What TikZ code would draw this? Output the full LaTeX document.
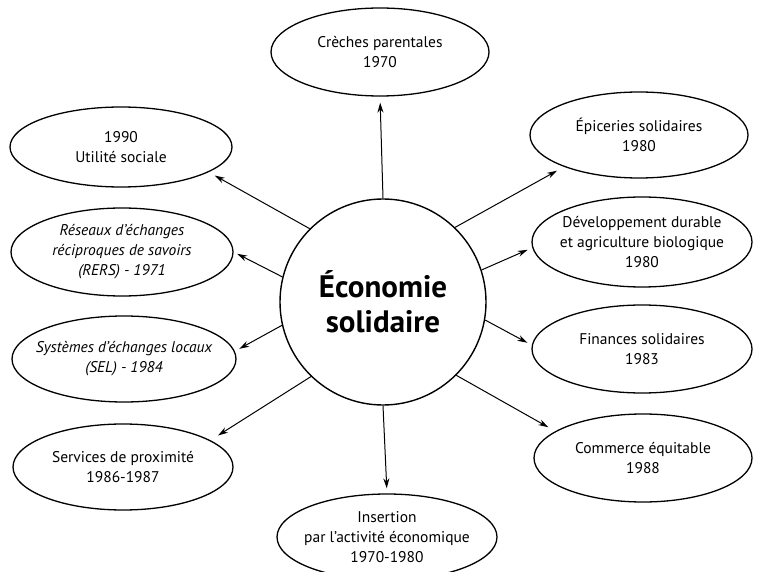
\documentclass[tikz,border=0pt]{standalone}
\usepackage{fontspec}
\setmainfont{PT Sans}
\usetikzlibrary{shapes.geometric,arrows.meta}
\begin{document}
\begin{tikzpicture}[x=1pt,y=-1pt,
  bub/.style={ellipse,draw,line width=1.3pt,inner sep=0pt},
  lbl/.style={align=center,inner sep=0pt,font=\fontsize{15.5}{20}\selectfont},
  itlbl/.style={lbl,font=\fontsize{15.5}{20}\selectfont\itshape},
  arr/.style={-{Stealth[length=10pt,width=6pt]},line width=1pt}]
\useasboundingbox (0,0) rectangle (758,572);
\node[circle,draw,line width=1.4pt,minimum size=206pt,inner sep=0pt,align=center,
  font=\fontsize{31}{35}\selectfont\bfseries] (c) at (383,302) {Économie\\solidaire};
\node[bub,minimum width=218pt,minimum height=88pt,label={[lbl]center:{Crèches parentales\\1970}}] (cre) at (380,52) {};
\node[bub,minimum width=220pt,minimum height=86pt,label={[lbl]center:{Insertion\\par l’activité économique\\1970-1980}}] (ins) at (387,537) {};
\node[bub,minimum width=222pt,minimum height=80pt,label={[lbl]center:{1990\\Utilité sociale}}] (utl) at (121,147) {};
\node[bub,minimum width=222pt,minimum height=88pt,label={[itlbl]center:{Réseaux d’échanges\\réciproques de savoirs\\(RERS) - 1971}}] (rers) at (122,252) {};
\node[bub,minimum width=224pt,minimum height=86pt,label={[itlbl]center:{Systèmes d’échanges locaux\\(SEL) - 1984}}] (sel) at (124,359) {};
\node[bub,minimum width=220pt,minimum height=86pt,label={[lbl]center:{Services de proximité\\1986-1987}}] (srv) at (123,467) {};
\node[bub,minimum width=218pt,minimum height=86pt,label={[lbl]center:{Épiceries solidaires\\1980}}] (epi) at (639,135) {};
\node[bub,minimum width=220pt,minimum height=90pt,label={[lbl]center:{Développement durable\\et agriculture biologique\\1980}}] (dev) at (642,242) {};
\node[bub,minimum width=220pt,minimum height=88pt,label={[lbl]center:{Finances solidaires\\1983}}] (fin) at (642,349) {};
\node[bub,minimum width=218pt,minimum height=88pt,label={[lbl]center:{Commerce équitable\\1988}}] (com) at (643,458) {};
\draw[arr,shorten >=6pt] (c.90) -- (cre.south);
\draw[arr,shorten >=5pt] (c.270) -- (ins.north);
\draw[arr,shorten >=7pt] (c.135) -- (utl.-16);
\draw[arr,shorten >=4pt] (c.166) -- (rers.east);
\draw[arr,shorten >=5pt] (c.193) -- (sel.4);
\draw[arr,shorten >=9pt] (c.226) -- (srv.17);
\draw[arr,shorten >=8pt] (c.46) -- (epi.203);
\draw[arr,shorten >=5pt] (c.18) -- (dev.183);
\draw[arr,shorten >=5pt] (c.-10) -- (fin.178);
\draw[arr,shorten >=8pt] (c.-45) -- (com.163);
\end{tikzpicture}
\end{document}
